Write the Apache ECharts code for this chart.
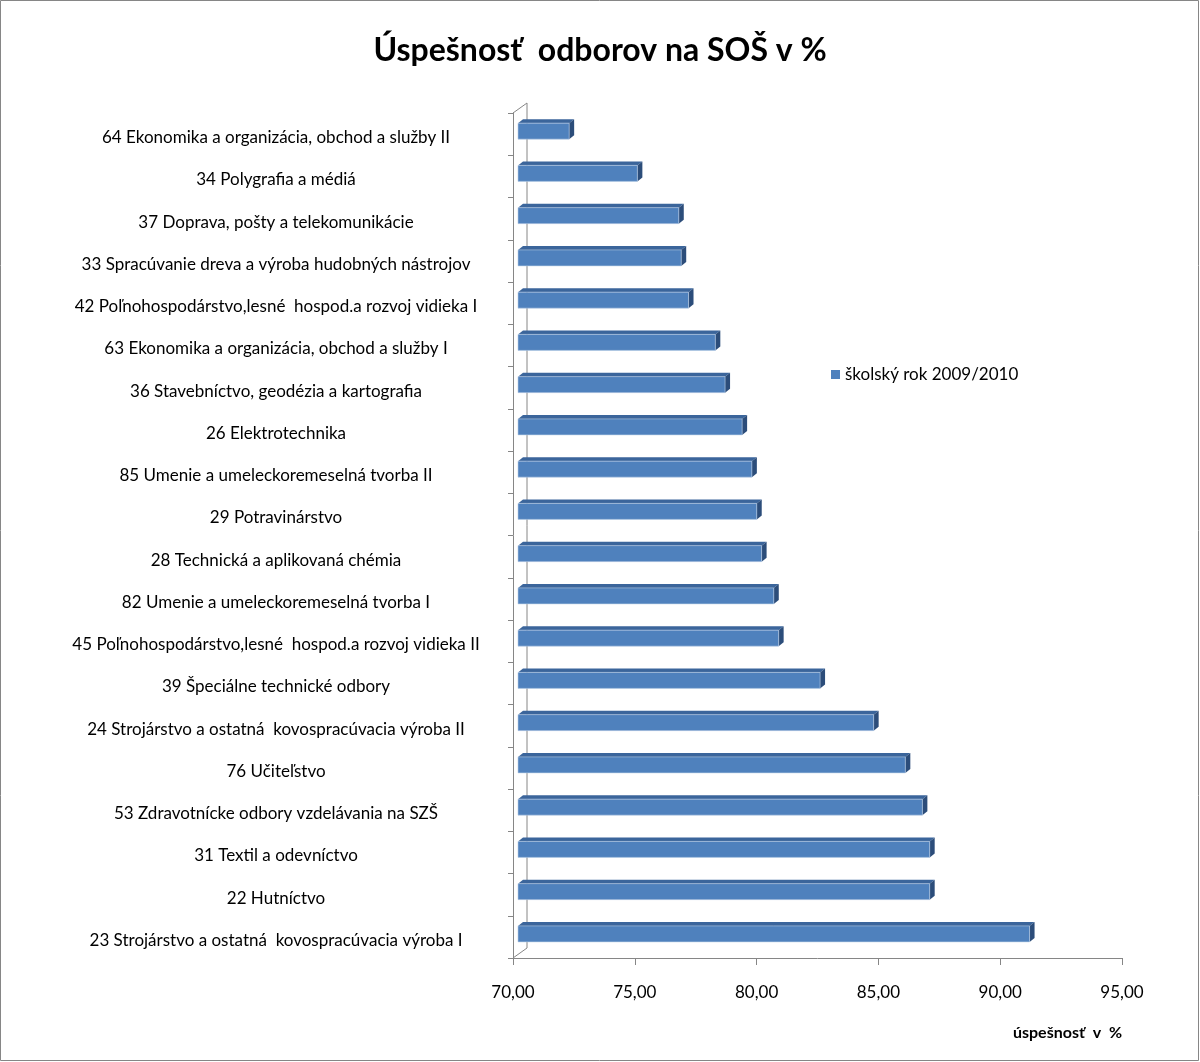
<!DOCTYPE html>
<html><head><meta charset="utf-8">
<script src="https://cdn.jsdelivr.net/npm/echarts@6/dist/echarts.min.js"></script>
<style>html,body{margin:0;padding:0;background:#fff}#c{width:1200px;height:1062px}</style>
</head><body><div id="c"></div>
<script>
const categories = [
  "64 Ekonomika a organizácia, obchod a služby II",
  "34 Polygrafia a médiá",
  "37 Doprava, pošty a telekomunikácie",
  "33 Spracúvanie dreva a výroba hudobných nástrojov",
  "42 Poľnohospodárstvo,lesné  hospod.a rozvoj vidieka I",
  "63 Ekonomika a organizácia, obchod a služby I",
  "36 Stavebníctvo, geodézia a kartografia",
  "26 Elektrotechnika",
  "85 Umenie a umeleckoremeselná tvorba II",
  "29 Potravinárstvo",
  "28 Technická a aplikovaná chémia",
  "82 Umenie a umeleckoremeselná tvorba I",
  "45 Poľnohospodárstvo,lesné  hospod.a rozvoj vidieka II",
  "39 Špeciálne technické odbory",
  "24 Strojárstvo a ostatná  kovospracúvacia výroba II",
  "76 Učiteľstvo",
  "53 Zdravotnícke odbory vzdelávania na SZŠ",
  "31 Textil a odevníctvo",
  "22 Hutníctvo",
  "23 Strojárstvo a ostatná  kovospracúvacia výroba I"
];
const values = [72.1, 74.9, 76.6, 76.7, 77.0, 78.1, 78.5, 79.2, 79.6, 79.8, 80.0, 80.5, 80.7, 82.4, 84.6, 85.9, 86.6, 86.9, 86.9, 91.0];
const seriesName = "školský rok 2009/2010";
const titleText = "Úspešnosť  odborov na SOŠ v %";
const xAxisTitle = "úspešnosť  v  %";
const xMin = 70, xMax = 95, xStep = 5;

const FONT = 'Lato, "Noto Sans", sans-serif';
const chart = echarts.init(document.getElementById('c'), null, {renderer:'canvas'});
const data = values.map((v,i)=>[v,i]);

chart.setOption({
  backgroundColor:'#fff',
  animation:false,
  title:{text:titleText, left:'center', top:30, textStyle:{fontFamily:FONT, fontSize:32, fontWeight:'bold', color:'#000'}},
  legend:{data:[{name:seriesName, icon:'rect'}], left:826, top:361, itemWidth:9, itemHeight:9, itemGap:7,
    textStyle:{fontFamily:FONT, fontSize:17, color:'#000'}},
  grid:{left:513, right:78, top:113, bottom:104},
  xAxis:{type:'value', min:xMin, max:xMax, interval:xStep,
    axisLine:{show:true, lineStyle:{color:'#868686'}},
    axisTick:{show:true, length:7, lineStyle:{color:'#868686'}},
    splitLine:{show:false},
    axisLabel:{margin:26, fontFamily:FONT, fontSize:17, color:'#000', formatter:v=>v.toFixed(2).replace('.',',')},
    name:xAxisTitle, nameLocation:'end', nameGap:0,
    nameTextStyle:{fontFamily:FONT, fontSize:16, fontWeight:'bold', color:'#000', align:'right', verticalAlign:'top', padding:[67,0,0,0]}
  },
  yAxis:{type:'category', data:categories, inverse:true,
    axisLine:{show:true, lineStyle:{color:'#868686'}},
    axisTick:{show:true, length:5, lineStyle:{color:'#868686'}},
    axisLabel:{margin:237, align:'center', fontFamily:FONT, fontSize:17, color:'#000',
      formatter:v=>'{t|'+v+'}',
      rich:{t:{fontFamily:FONT, fontSize:17, color:'#000', padding:[7,0,0,0]}}}
  },
  series:[
    {type:'custom', name:'wall', silent:true, data:[[xMin,0]],
      renderItem:function(params, api){
        const cs = params.coordSys; const dx=14, dy=10;
        const x=cs.x, yT=cs.y, yB=cs.y+cs.height;
        return {type:'polyline', shape:{points:[[x,yT],[x+dx,yT-dy],[x+dx,yB-dy],[x,yB]]}, style:{stroke:'#868686', lineWidth:1, fill:null}};
      }},
    {type:'custom', name:seriesName, data:data, itemStyle:{color:'#4F81BD'},
      encode:{x:0, y:1},
      renderItem:function(params, api){
        const v = api.value(0), idx = api.value(1);
        const p0 = api.coord([xMin, idx]), p1 = api.coord([v, idx]);
        const h = 16, dx = 5, dy = 4;
        const yTop = p0[1] - 11;
        const x0 = p0[0] + dx, x1 = p1[0] + dx;
        return {type:'group', children:[
          {type:'polygon', shape:{points:[[x0,yTop],[x0+dx,yTop-dy],[x1+dx,yTop-dy],[x1,yTop]]}, style:{fill:'#3B659B'}},
          {type:'polygon', shape:{points:[[x1,yTop],[x1+dx,yTop-dy],[x1+dx,yTop+h-dy],[x1,yTop+h]]}, style:{fill:'#2C4D7A'}},
          {type:'rect', shape:{x:x0, y:yTop, width:x1-x0, height:h}, style:{fill:'#4F81BD', stroke:'#B9CDE5', lineWidth:0.6}}
        ]};
      }}
  ],
  graphic:[{type:'rect', shape:{x:0.5, y:0.5, width:1198, height:1060}, style:{fill:null, stroke:'#868686', lineWidth:1}, silent:true}]
});
</script></body></html>
